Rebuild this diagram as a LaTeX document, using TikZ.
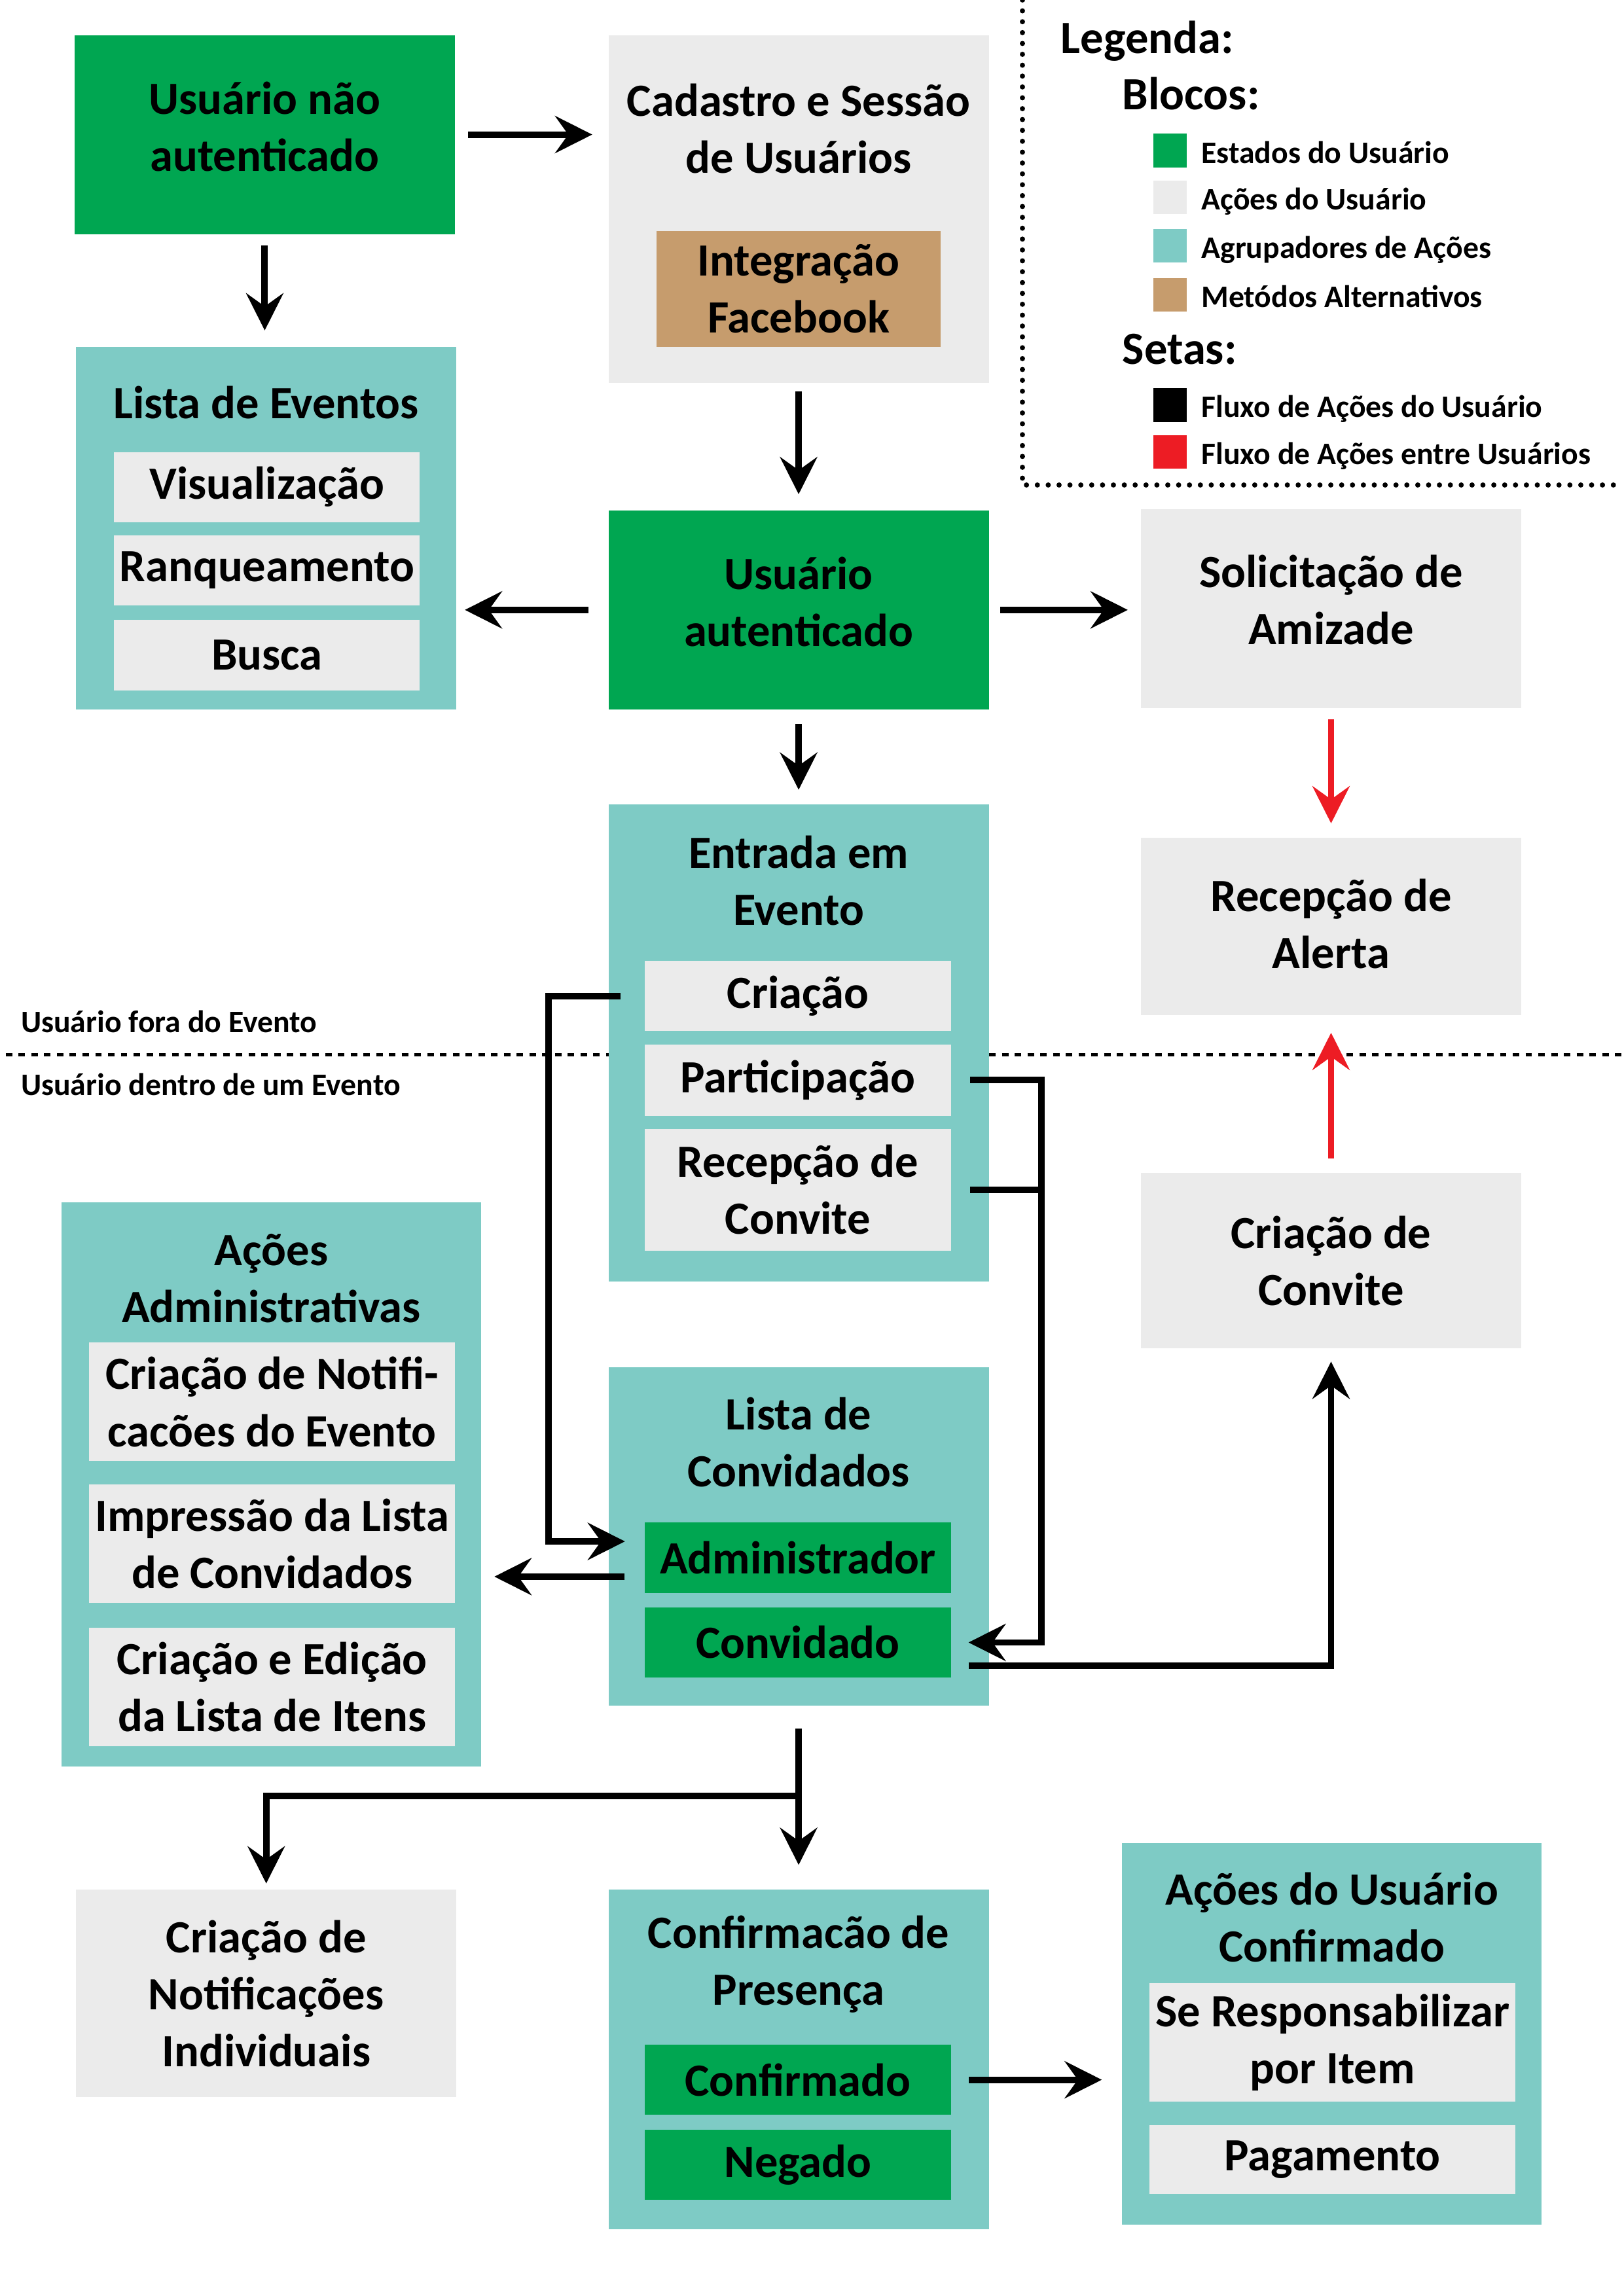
\documentclass[tikz,border=0pt]{standalone}
\usepackage{fontspec}
\setmainfont{Carlito}
\usetikzlibrary{arrows.meta}

\definecolor{verde}{HTML}{00A651}
\definecolor{cinza}{HTML}{EBEBEB}
\definecolor{agua}{HTML}{7ECBC5}
\definecolor{bege}{HTML}{C69C6D}
\definecolor{vermelho}{HTML}{ED1C24}
\def\dpx{0.0189189cm}

\begin{document}
\begin{tikzpicture}[x=\dpx, y=-\dpx,
	box/.style 2 args={minimum width=#1*\dpx, minimum height=#2*\dpx, inner sep=0pt, outer sep=0pt, align=center, font=\fontsize{17}{21}\selectfont\bfseries},
	estado/.style={fill=verde}, acao/.style={fill=cinza}, grupo/.style={fill=agua}, alt/.style={fill=bege},
	acima/.style={text depth=#1},
	titulo/.style={align=center, inner sep=0pt, font=\fontsize{17}{21}\selectfont\bfseries},
	seta/.style={line width=2.4pt, -{Stealth[length=4.8mm, width=4.8mm, inset=1.7mm]}},
	linha/.style={line width=2.4pt},
	divisa/.style={line width=1.2pt, dash pattern=on 2.4pt off 2.3pt},
	pontos/.style={line width=1.9pt, line cap=round, dash pattern=on 0pt off 4pt},
	amostra/.style={minimum width=23*\dpx, minimum height=23*\dpx, inner sep=0pt},
	legtxt/.style={anchor=base west, inner sep=0pt, font=\fontsize{11.5}{14}\selectfont\bfseries},
	legtit/.style={anchor=base west, inner sep=0pt, font=\fontsize{17}{21}\selectfont\bfseries}]
	\useasboundingbox (0,0) rectangle (1110,1569.86);

	% divisas
	\draw[divisa] (4,721) -- (1110,721);
	\node[legtxt] (fora) at (14,706) {Usuário fora do Evento};
	\node[legtxt] (dentro) at (14,749) {Usuário dentro de um Evento};
	\draw[pontos] (699,0) -- (699,331.6) -- (1110,331.6);

	% legenda
	\node[legtit] (leg) at (725,36.5) {Legenda:};
	\node[legtit] (blocos) at (767,75) {Blocos:};
	\node[amostra, estado] (lestado) at (800,103) {};
	\node[amostra, acao] (lacao) at (800,135) {};
	\node[amostra, grupo] (lgrupo) at (800,168) {};
	\node[amostra, alt] (lalt) at (800,201.7) {};
	\node[legtxt] at (821,111.5) {Estados do Usuário};
	\node[legtxt] at (821,143.5) {Ações do Usuário};
	\node[legtxt] at (821,176.5) {Agrupadores de Ações};
	\node[legtxt] at (821,210) {Metódos Alternativos};
	\node[legtit] (setas) at (767,249) {Setas:};
	\node[amostra, fill=black] (lpreto) at (800,277) {};
	\node[amostra, fill=vermelho] (lverm) at (800,309) {};
	\node[legtxt] at (821,285.5) {Fluxo de Ações do Usuário};
	\node[legtxt] at (821,317.5) {Fluxo de Ações entre Usuários};

	% blocos
	\node[box={260}{136}, estado, acima=6pt] (naoaut) at (181,92) {Usuário não\\autenticado};
	\node[box={260}{238}, acao] (cad) at (546,143) {};
	\node[titulo] (cadt) at (546,88) {Cadastro e Sessão\\de Usuários};
	\node[box={194}{79}, alt] (face) at (546,197.5) {Integração\\Facebook};

	\node[box={260}{248}, grupo] (lev) at (182,361) {};
	\node[titulo] (levt) at (182,275) {Lista de Eventos};
	\node[box={209}{48}, acao] (vis) at (182.5,333) {Visualização};
	\node[box={209}{48}, acao] (ranq) at (182.5,390) {Ranqueamento};
	\node[box={209}{48}, acao] (busca) at (182.5,448) {Busca};

	\node[box={260}{136}, estado, acima=6pt] (aut) at (546,417) {Usuário\\autenticado};
	\node[box={260}{136}, acao, acima=6.5pt] (amiz) at (910,416) {Solicitação de\\Amizade};
	\node[box={260}{121}, acao, acima=2pt] (alerta) at (910,633.5) {Recepção de\\Alerta};

	\node[box={260}{326}, grupo] (ent) at (546,713) {};
	\node[titulo] (entt) at (546,602) {Entrada em\\Evento};
	\node[box={209}{48}, acao] (cria) at (545.5,681) {Criação};
	\node[box={209}{49}, acao] (part) at (545.5,738.5) {Participação};
	\node[box={209}{83}, acao] (rconv) at (545.5,813.5) {Recepção de\\Convite};

	\node[box={260}{120}, acao] (cconv) at (910,862) {Criação de\\Convite};

	\node[box={260}{231}, grupo] (lconv) at (546,1050.5) {};
	\node[titulo] (lconvt) at (546,986) {Lista de\\Convidados};
	\node[box={209}{48}, estado] (adm) at (545.5,1065) {Administrador};
	\node[box={209}{48}, estado] (convd) at (545.5,1123) {Convidado};

	\node[box={287}{386}, grupo] (adma) at (185.5,1015) {};
	\node[titulo] (admat) at (185.5,874) {Ações\\Administrativas};
	\node[box={250}{81}, acao] (notif) at (186,958.5) {Criação de Notifi-\\cacões do Evento};
	\node[box={250}{81}, acao] (impr) at (186,1055.5) {Impressão da Lista\\de Convidados};
	\node[box={250}{81}, acao] (itens) at (186,1153.5) {Criação e Edição\\da Lista de Itens};

	\node[box={260}{142}, acao] (nind) at (182,1363) {Criação de\\Notificações\\Individuais};

	\node[box={260}{232}, grupo] (pres) at (546,1408) {};
	\node[titulo] (prest) at (546,1343) {Confirmacão de\\Presença};
	\node[box={209}{48}, estado] (conf) at (545.5,1422) {Confirmado};
	\node[box={209}{48}, estado] (neg) at (545.5,1480) {Negado};

	\node[box={287}{261}, grupo] (uconf) at (910.5,1390.5) {};
	\node[titulo] (uconft) at (910.5,1311) {Ações do Usuário\\Confirmado};
	\node[box={250}{81}, acao] (resp) at (911,1396.5) {Se Responsabilizar\\por Item};
	\node[box={250}{47}, acao] (pag) at (911,1476.5) {Pagamento};

	% setas
	\draw[seta, shorten <=0.17cm, shorten >=0.21cm] (naoaut.east) -- (naoaut.east -| cad.west);
	\draw[seta, shorten <=0.15cm, shorten >=0.21cm] (naoaut.south) -- (naoaut.south |- lev.north);
	\draw[seta, shorten <=0.11cm, shorten >=0.21cm] (cad.south) -- (aut.north);
	\draw[seta, shorten <=0.26cm, shorten >=0.11cm] (aut.west) -- (aut.west -| lev.east);
	\draw[seta, shorten <=0.15cm, shorten >=0.17cm] (aut.east) -- (aut.east -| amiz.west);
	\draw[seta, shorten <=0.19cm, shorten >=0.19cm] (aut.south) -- (ent.north);
	\draw[seta, vermelho, shorten <=0.15cm, shorten >=0.19cm] (amiz.south) -- (alerta.north);
	\draw[seta, vermelho, shorten <=0.19cm, shorten >=0.23cm] (cconv.north) -- (alerta.south);
	\draw[seta, shorten <=0.32cm, shorten >=0.26cm] (cria.west) -- ++(-66,0) |- ([yshift=0.21cm]adm.west);
	\draw[seta, shorten <=0.25cm, shorten >=0.23cm] (part.east) -- ++(62,0) |- (convd.east);
	\draw[linha, shorten <=0.25cm] (rconv.east) -- ++(62,0);
	\draw[seta, shorten <=0.23cm, shorten >=0.17cm] ([yshift=-0.3cm]convd.east) -| (cconv.south);
	\path ([yshift=-0.52cm]lconv.west) coordinate (lcw);
	\draw[seta, shorten >=0.17cm] ([xshift=0.21cm]lcw) -- (lcw -| adma.east);
	\draw[linha, shorten <=0.3cm] (lconv.south) -- ++(0,62) coordinate (split);
	\draw[seta, shorten >=0.32cm] (split) -- (pres.north);
	\draw[seta, shorten >=0.08cm] (split) -| (nind.north);
	\draw[seta, shorten <=0.23cm, shorten >=0.26cm] (conf.east) -- (conf.east -| uconf.west);
\end{tikzpicture}
\end{document}
